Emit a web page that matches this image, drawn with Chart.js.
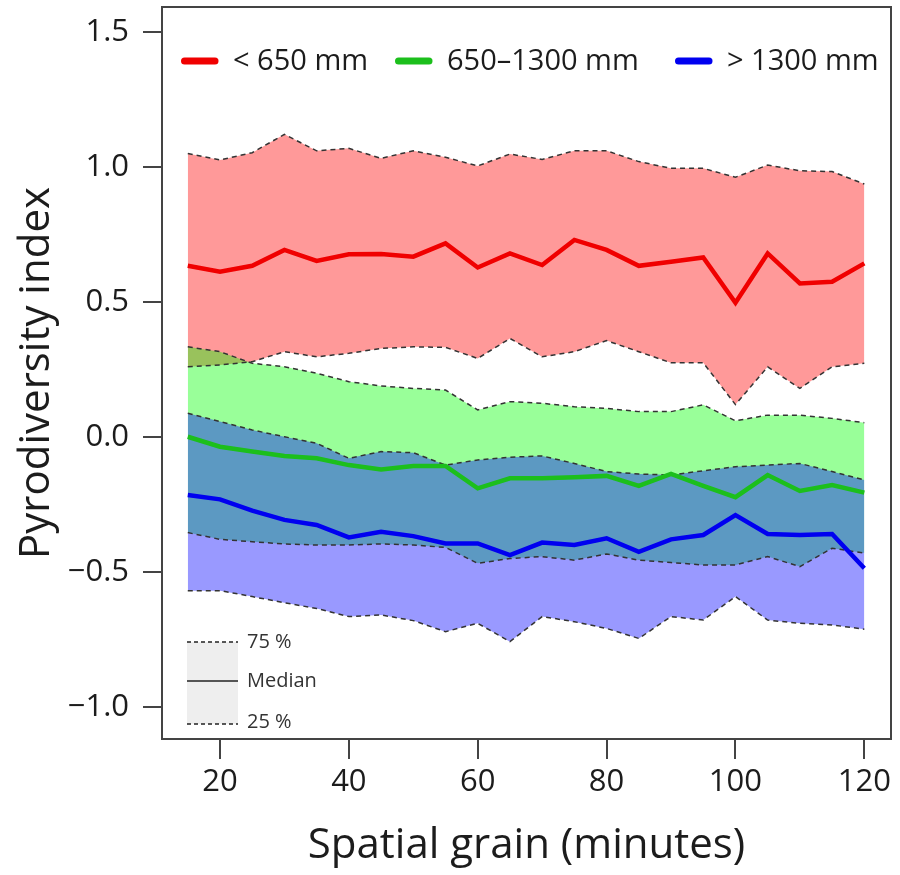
<!DOCTYPE html>
<html>
<head>
<meta charset="utf-8">
<script src="https://cdn.jsdelivr.net/npm/chart.js"></script>
<style>
  html, body { margin: 0; background: #fff; }
</style>
</head>
<body>
<canvas id="pyroChart" width="900" height="875"></canvas>
<script>
// spatial grain (minutes)
const grain = [15, 20, 25, 30, 35, 40, 45, 50, 55, 60, 65, 70, 75, 80, 85, 90, 95, 100, 105, 110, 115, 120];

// rainfall classes
const groups = ['< 650 mm', '650\u20131300 mm', '> 1300 mm'];

// < 650 mm
const redUp  = [1.05, 1.026, 1.053, 1.121, 1.06, 1.069, 1.032, 1.06, 1.036, 1.004, 1.048, 1.028, 1.06, 1.06, 1.02, 0.995, 0.995, 0.962, 1.007, 0.986, 0.983, 0.937];
const redMed = [0.634, 0.612, 0.634, 0.693, 0.652, 0.677, 0.678, 0.668, 0.717, 0.628, 0.68, 0.637, 0.73, 0.693, 0.634, 0.649, 0.665, 0.497, 0.68, 0.569, 0.575, 0.643];
const redLo  = [0.26, 0.267, 0.279, 0.316, 0.297, 0.31, 0.328, 0.334, 0.332, 0.291, 0.365, 0.297, 0.316, 0.357, 0.316, 0.275, 0.275, 0.12, 0.26, 0.18, 0.26, 0.273];

// 650-1300 mm
const greenUp  = [0.334, 0.316, 0.273, 0.26, 0.236, 0.205, 0.189, 0.18, 0.174, 0.10, 0.131, 0.125, 0.112, 0.106, 0.094, 0.094, 0.119, 0.06, 0.081, 0.081, 0.069, 0.053];
const greenMed = [0.001, -0.036, -0.054, -0.07, -0.079, -0.104, -0.12, -0.107, -0.107, -0.19, -0.153, -0.153, -0.149, -0.144, -0.181, -0.137, -0.181, -0.223, -0.141, -0.2, -0.178, -0.206];
const greenLo  = [-0.354, -0.379, -0.388, -0.396, -0.4, -0.4, -0.396, -0.4, -0.409, -0.468, -0.45, -0.443, -0.456, -0.433, -0.456, -0.465, -0.474, -0.474, -0.443, -0.48, -0.412, -0.43];

// > 1300 mm
const blueUp  = [0.088, 0.057, 0.026, 0.001, -0.023, -0.079, -0.054, -0.058, -0.104, -0.085, -0.075, -0.07, -0.098, -0.128, -0.137, -0.141, -0.125, -0.11, -0.104, -0.098, -0.128, -0.159];
const blueMed = [-0.215, -0.231, -0.273, -0.307, -0.326, -0.372, -0.351, -0.367, -0.394, -0.394, -0.437, -0.391, -0.4, -0.375, -0.425, -0.379, -0.363, -0.289, -0.359, -0.363, -0.359, -0.486];
const blueLo  = [-0.569, -0.569, -0.591, -0.614, -0.635, -0.665, -0.659, -0.68, -0.721, -0.69, -0.758, -0.665, -0.684, -0.709, -0.746, -0.665, -0.678, -0.591, -0.678, -0.69, -0.696, -0.712];

const xTicks = [20, 40, 60, 80, 100, 120];
const yTicks = [-1.0, -0.5, 0.0, 0.5, 1.0, 1.5];
const keyLabels = ['75 %', 'Median', '25 %'];

const lineColors = ['#f00000', '#1cbf1c', '#0000f0'];
const fillColors = ['rgba(255,0,0,0.4)', 'rgba(0,255,0,0.4)', 'rgba(0,0,255,0.4)'];
const FONT = '"Open Sans", "DejaVu Sans", sans-serif';
const INK = '#1c1c1c';

const pts = arr => arr.map((v, i) => ({ x: grain[i], y: v }));

// dashed quartile bounds; the upper one fills down to the lower one
function band(up, lo, k) {
  const dash = { borderColor: '#333', borderWidth: 1.5, borderDash: [5, 4], pointRadius: 0, tension: 0 };
  return [
    Object.assign({ data: pts(up), fill: '+1', backgroundColor: fillColors[k], order: 3 - k }, dash),
    Object.assign({ data: pts(lo), fill: false, order: 3 - k }, dash)
  ];
}
function median(arr, k) {
  return { data: pts(arr), borderColor: lineColors[k], borderWidth: 4.5, pointRadius: 0, tension: 0, fill: false, order: 0 };
}

// box around the plot area
const frame = {
  id: 'frame',
  afterDatasetsDraw(chart) {
    const a = chart.chartArea, c = chart.ctx;
    c.save();
    c.strokeStyle = '#444';
    c.lineWidth = 2;
    c.strokeRect(a.left, a.top, a.right - a.left, a.bottom - a.top);
    c.restore();
  }
};

// legend row at the top + quartile key bottom-left
const keys = {
  id: 'keys',
  afterDraw(chart) {
    const c = chart.ctx;
    c.save();
    c.font = '29px ' + FONT;
    c.textBaseline = 'middle';
    c.fillStyle = INK;
    const sampleX = [181, 395, 675];
    const y = 61;
    groups.forEach((g, k) => {
      const x = sampleX[k];
      c.strokeStyle = lineColors[k];
      c.lineWidth = 7;
      c.lineCap = 'round';
      c.beginPath(); c.moveTo(x + 3.5, y); c.lineTo(x + 34, y); c.stroke();
      c.fillText(g, x + 52, y + 1);
    });

    // quartile key
    const bx = 187, bw = 51, ys = [642, 681, 724];
    c.fillStyle = '#eeeeee';
    c.fillRect(bx, ys[0], bw, ys[2] - ys[0]);
    c.lineCap = 'butt';
    c.strokeStyle = '#222';
    c.lineWidth = 1.5;
    ys.forEach((yy, i) => {
      c.setLineDash(i === 1 ? [] : [4, 3]);
      c.beginPath(); c.moveTo(bx, yy); c.lineTo(bx + bw, yy); c.stroke();
    });
    c.setLineDash([]);
    c.font = '20px ' + FONT;
    c.fillStyle = '#333';
    keyLabels.forEach((t, i) => c.fillText(t, bx + 60, ys[i] - (i === 2 ? 2 : 0)));
    c.restore();
  }
};

const ctx = document.getElementById('pyroChart').getContext('2d');

const pyroChart = new Chart(ctx, {
  type: 'line',
  data: {
    datasets: [
      ...band(redUp, redLo, 0), median(redMed, 0),
      ...band(greenUp, greenLo, 1), median(greenMed, 1),
      ...band(blueUp, blueLo, 2), median(blueMed, 2)
    ]
  },
  options: {
    responsive: false,
    animation: false,
    layout: { padding: { top: 7, right: 9, left: 0, bottom: 0 } },
    plugins: {
      legend: { display: false },
      tooltip: { enabled: false },
      filler: { drawTime: 'beforeDatasetsDraw' }
    },
    scales: {
      x: {
        type: 'linear',
        min: 11,
        max: 124.14,
        afterBuildTicks: s => { s.ticks = xTicks.map(v => ({ value: v })); },
        afterFit: s => { s.height = 136; s.paddingLeft = 0; s.paddingRight = 0; },
        grid: { drawOnChartArea: false, drawTicks: true, tickLength: 20, color: '#444', lineWidth: 2 },
        border: { display: false },
        ticks: { color: INK, font: { family: FONT, size: 31 }, padding: 5, maxRotation: 0 },
        title: { display: true, text: 'Spatial grain (minutes)', color: INK, font: { family: FONT, size: 42 }, padding: { top: 0, bottom: 4 } }
      },
      y: {
        min: -1.1185,
        max: 1.5926,
        afterBuildTicks: s => { s.ticks = yTicks.map(v => ({ value: v })); },
        afterFit: s => { s.width = 162; s.paddingTop = 0; s.paddingBottom = 0; },
        grid: { drawOnChartArea: false, drawTicks: true, tickLength: 19, color: '#444', lineWidth: 2 },
        border: { display: false },
        ticks: {
          color: INK,
          font: { family: FONT, size: 31 },
          padding: 14,
          callback: v => (v < 0 ? '\u2212' : '') + Math.abs(v).toFixed(1)
        },
        title: { display: true, text: 'Pyrodiversity index', color: INK, font: { family: FONT, size: 42 }, padding: { top: 12, bottom: 0 } }
      }
    }
  },
  plugins: [frame, keys]
});
</script>
</body>
</html>
